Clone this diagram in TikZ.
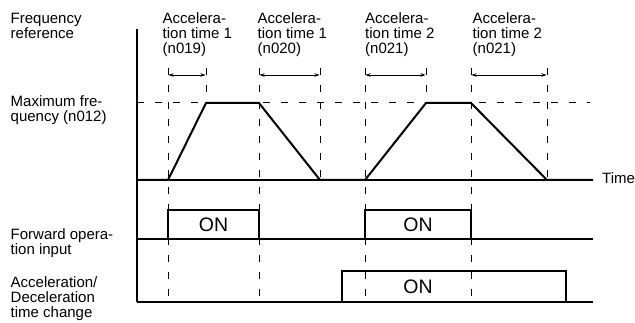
\documentclass[tikz,border=0pt]{standalone}
\usepackage{fontspec}
\setmainfont{Liberation Sans}
\usetikzlibrary{arrows.meta}
\begin{document}
\begin{tikzpicture}[x=1pt,y=-1pt,
 lbl/.style={anchor=base west, align=left, inner sep=0pt, font=\fontsize{15}{15}\selectfont},
 onlbl/.style={inner sep=0pt, font=\fontsize{19.5}{20}\selectfont},
 trace/.style={line width=2pt, line join=miter},
 axis/.style={line width=1.1pt},
 guide/.style={line width=1pt, dash pattern=on 7pt off 10pt},
 hguide/.style={line width=1pt, dash pattern=on 7pt off 11pt},
 span/.style={line width=0.9pt, {Stealth[length=5pt,width=3.5pt]}-{Stealth[length=5pt,width=3.5pt]}}]
\useasboundingbox (0,0) rectangle (635,323);
% time marks
\coordinate (t1) at (168,68); \coordinate (t2) at (206,68);
\coordinate (t3) at (259,68); \coordinate (t4) at (320,68);
\coordinate (t5) at (365,68); \coordinate (t6) at (426,68);
\coordinate (t7) at (471,68); \coordinate (t8) at (547,68);
% guides
\draw[guide] (t1) -- (168,305);
\draw[guide] (t3) -- (259,305);
\draw[guide] (t5) -- (365,305);
\draw[guide] (t7) -- (471,305);
\draw[guide] (t2) -- (206,103);
\draw[guide] (t6) -- (426,103);
\draw[guide] (t4) -- (320,180);
\draw[guide] (t8) -- (547,180);
\draw[hguide] (137,103) -- (590,103);
% spans
\draw[span] (168.5,75) -- (205.5,75);
\draw[span] (259.5,75) -- (319.5,75);
\draw[span] (365.5,75) -- (425.5,75);
\draw[span] (471.5,75) -- (546.5,75);
% axes
\draw[axis] (137,29) -- (137,302);
\draw[axis] (137,180) -- (593,180);
\draw[axis] (137,239) -- (593,239);
\draw[axis] (137,302) -- (593,302);
% traces
\draw[trace] (137,180) -- (168,180) -- (206,103) -- (259,103) -- (320,180) -- (365,180) -- (426,103) -- (471,103) -- (547,180) -- (593,180);
\draw[trace] (137,239) -- (168,239) -- (168,210) -- (259,210) -- (259,239) -- (365,239) -- (365,210) -- (471,210) -- (471,239) -- (593,239);
\draw[trace] (137,302) -- (342,302) -- (342,271) -- (566,271) -- (566,302) -- (593,302);
% labels
\node[lbl] (l1) at (10.5,38.5) {Frequency\\reference};
\node[lbl] (l2) at (10.5,121.5) {Maximum fre-\\quency (n012)};
\node[lbl] (l3) at (10.5,255) {Forward opera-\\tion input};
\node[lbl] (l4) at (10.5,318) {Acceleration/\\Deceleration\\time change};
\node[lbl] (a1) at (162.5,54) {Accelera-\\tion time 1\\(n019)};
\node[lbl] (a2) at (257.5,54) {Accelera-\\tion time 1\\(n020)};
\node[lbl] (a3) at (365,54) {Accelera-\\tion time 2\\(n021)};
\node[lbl] (a4) at (472.5,54) {Accelera-\\tion time 2\\(n021)};
\node[lbl] (tm) at (602,184) {Time};
\node[onlbl] (on1) at (213.5,224.5) {ON};
\node[onlbl] (on2) at (418,224.5) {ON};
\node[onlbl] (on3) at (418,286.5) {ON};
\end{tikzpicture}
\end{document}
